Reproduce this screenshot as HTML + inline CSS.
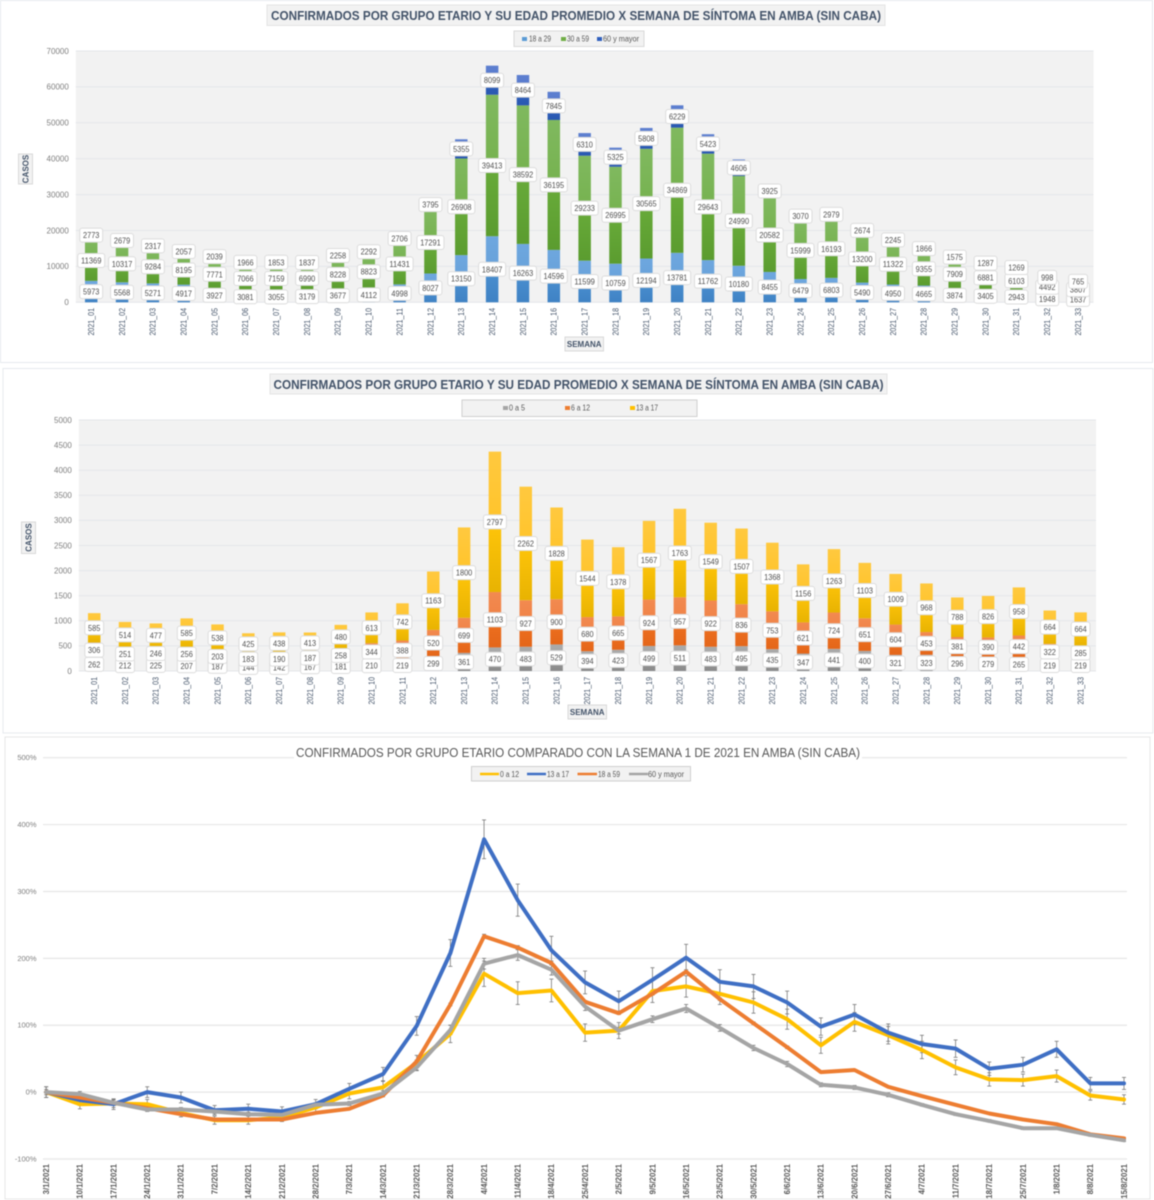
<!DOCTYPE html>
<html lang="es">
<head>
<meta charset="utf-8">
<title>Confirmados por grupo etario en AMBA</title>
<style>
html,body{margin:0;padding:0;background:#fff;}
svg{display:block;filter:blur(0.4px);font-family:"Liberation Sans",sans-serif;}
</style>
</head>
<body>
<svg id="root" xmlns="http://www.w3.org/2000/svg" width="1154" height="1200" viewBox="0 0 1154 1200">
  <defs>
    <linearGradient id="g-blue" x1="0" y1="0" x2="0" y2="1"><stop offset="0" stop-color="#6ea7df"/><stop offset=".5" stop-color="#68a2da"/><stop offset=".5" stop-color="#4a8fd0"/><stop offset="1" stop-color="#3f82c4"/></linearGradient>
    <linearGradient id="g-green" x1="0" y1="0" x2="0" y2="1"><stop offset="0" stop-color="#80b95f"/><stop offset=".5" stop-color="#76b24f"/><stop offset=".5" stop-color="#68ab3a"/><stop offset="1" stop-color="#5b9c2f"/></linearGradient>
    <linearGradient id="g-navy" x1="0" y1="0" x2="0" y2="1"><stop offset="0" stop-color="#5e80d0"/><stop offset=".5" stop-color="#5577cc"/><stop offset=".5" stop-color="#2f62c0"/><stop offset="1" stop-color="#2a58b0"/></linearGradient>
    <linearGradient id="g-gray" x1="0" y1="0" x2="0" y2="1"><stop offset="0" stop-color="#aaaaaa"/><stop offset=".5" stop-color="#a5a5a5"/><stop offset=".5" stop-color="#999999"/><stop offset="1" stop-color="#8a8a8a"/></linearGradient>
    <linearGradient id="g-orange" x1="0" y1="0" x2="0" y2="1"><stop offset="0" stop-color="#f28a50"/><stop offset=".5" stop-color="#f08246"/><stop offset=".5" stop-color="#ee701f"/><stop offset="1" stop-color="#e4661a"/></linearGradient>
    <linearGradient id="g-yellow" x1="0" y1="0" x2="0" y2="1"><stop offset="0" stop-color="#ffc93f"/><stop offset=".5" stop-color="#ffc42b"/><stop offset=".5" stop-color="#ffc50a"/><stop offset="1" stop-color="#e8b302"/></linearGradient>
  </defs>

  <!-- Panel 1 -->
  <g id="chart1">
    <rect x="0.5" y="0.5" width="1152" height="362" fill="#fff" stroke="#e6eaee"/>
    <rect x="75.8" y="51" width="1017.7" height="251.3" fill="#f2f2f2"/>
    <rect x="267" y="5" width="618" height="20.5" fill="#f2f2f2" stroke="#e4e4e4"/>
    <text x="576" y="20" text-anchor="middle" font-size="13" font-weight="bold" fill="#44546a" textLength="610" lengthAdjust="spacingAndGlyphs">CONFIRMADOS POR GRUPO ETARIO Y SU EDAD PROMEDIO X SEMANA DE SÍNTOMA EN AMBA (SIN CABA)</text>
    <rect x="514" y="31" width="130" height="15.5" fill="#f2f2f2" stroke="#d9d9d9"/>
    <rect x="522" y="37" width="5" height="4" fill="#5b9bd5"/>
    <text x="529" y="41.5" font-size="8" fill="#595959" textLength="22" lengthAdjust="spacingAndGlyphs">18 a 29</text>
    <rect x="561" y="37" width="5" height="4" fill="#70ad47"/>
    <text x="567" y="41.5" font-size="8" fill="#595959" textLength="22" lengthAdjust="spacingAndGlyphs">30 a 59</text>
    <rect x="597" y="37" width="5" height="4" fill="#2f5fbe"/>
    <text x="603" y="41.5" font-size="8" fill="#595959" textLength="36" lengthAdjust="spacingAndGlyphs">60 y mayor</text>
    <rect x="18.5" y="154" width="14" height="30" fill="#f2f2f2" stroke="#d9d9d9"/>
    <text transform="translate(28.5,169) rotate(-90)" text-anchor="middle" font-size="8" font-weight="bold" fill="#44546a">CASOS</text>
    <rect x="565" y="337" width="38.5" height="14" fill="#f2f2f2" stroke="#d9d9d9"/>
    <text x="584.2" y="347" text-anchor="middle" font-size="8" font-weight="bold" fill="#44546a">SEMANA</text>
  </g>

  <!-- Panel 2 -->
  <g id="chart2">
    <rect x="3" y="368.5" width="1150" height="364.5" fill="#fff" stroke="#e6eaee"/>
    <rect x="78.8" y="420" width="1017.2" height="251" fill="#f2f2f2"/>
    <rect x="270" y="374" width="617" height="20" fill="#f2f2f2" stroke="#e4e4e4"/>
    <text x="578.5" y="389" text-anchor="middle" font-size="13" font-weight="bold" fill="#44546a" textLength="610" lengthAdjust="spacingAndGlyphs">CONFIRMADOS POR GRUPO ETARIO Y SU EDAD PROMEDIO X SEMANA DE SÍNTOMA EN AMBA (SIN CABA)</text>
    <rect x="462" y="400" width="235" height="16.5" fill="#f2f2f2" stroke="#d0d0d0"/>
    <rect x="503" y="406" width="5" height="4" fill="#a5a5a5"/>
    <text x="509" y="410.5" font-size="8" fill="#595959" textLength="16" lengthAdjust="spacingAndGlyphs">0 a 5</text>
    <rect x="565" y="406" width="5" height="4" fill="#ed7d31"/>
    <text x="571" y="410.5" font-size="8" fill="#595959" textLength="19" lengthAdjust="spacingAndGlyphs">6 a 12</text>
    <rect x="630" y="406" width="5" height="4" fill="#ffc000"/>
    <text x="636" y="410.5" font-size="8" fill="#595959" textLength="22" lengthAdjust="spacingAndGlyphs">13 a 17</text>
    <rect x="21.5" y="522" width="14" height="31.5" fill="#f2f2f2" stroke="#d9d9d9"/>
    <text transform="translate(31.5,537.5) rotate(-90)" text-anchor="middle" font-size="8" font-weight="bold" fill="#44546a">CASOS</text>
    <rect x="568" y="705" width="38.5" height="14" fill="#f2f2f2" stroke="#d9d9d9"/>
    <text x="587.2" y="715" text-anchor="middle" font-size="8" font-weight="bold" fill="#44546a">SEMANA</text>
  </g>

  <!-- Panel 3 -->
  <g id="chart3">
    <rect x="5" y="737" width="1145" height="462" fill="#fff" stroke="#e6e6e6"/>
  </g>
  <g id="chart3-top">
    <rect x="294" y="744" width="568" height="17" fill="#fff"/>
    <text x="578" y="757" text-anchor="middle" font-size="12.5" fill="#595959" textLength="564" lengthAdjust="spacingAndGlyphs">CONFIRMADOS POR GRUPO ETARIO COMPARADO CON LA SEMANA 1 DE 2021 EN AMBA (SIN CABA)</text>
    <rect x="471.5" y="766.5" width="219" height="14.5" fill="#f2f2f2" stroke="#d0d0d0"/>
    <line x1="480" x2="499" y1="774" y2="774" stroke="#ffc000" stroke-width="2.6"/>
    <text x="500" y="777" font-size="8" fill="#595959" textLength="19" lengthAdjust="spacingAndGlyphs">0 a 12</text>
    <line x1="527" x2="546" y1="774" y2="774" stroke="#3f6fc4" stroke-width="2.6"/>
    <text x="547" y="777" font-size="8" fill="#595959" textLength="22" lengthAdjust="spacingAndGlyphs">13 a 17</text>
    <line x1="577.5" x2="597" y1="774" y2="774" stroke="#ed7d31" stroke-width="2.6"/>
    <text x="598" y="777" font-size="8" fill="#595959" textLength="22" lengthAdjust="spacingAndGlyphs">18 a 59</text>
    <line x1="629" x2="648" y1="774" y2="774" stroke="#a5a5a5" stroke-width="2.6"/>
    <text x="648" y="777" font-size="8" fill="#595959" textLength="36" lengthAdjust="spacingAndGlyphs">60 y mayor</text>
  </g>
</svg>

<script>
// ---- Chart 1 data ----
const weeks = ["2021_01","2021_02","2021_03","2021_04","2021_05","2021_06","2021_07","2021_08","2021_09","2021_10","2021_11","2021_12","2021_13","2021_14","2021_15","2021_16","2021_17","2021_18","2021_19","2021_20","2021_21","2021_22","2021_23","2021_24","2021_25","2021_26","2021_27","2021_28","2021_29","2021_30","2021_31","2021_32","2021_33"];
const adults18to29 = [5973,5568,5271,4917,3927,3081,3055,3179,3677,4112,4998,8027,13150,18407,16263,14596,11599,10759,12194,13781,11762,10180,8455,6479,6803,5490,4950,4665,3874,3405,2943,1948,1637];
const adults30to59 = [11369,10317,9284,8195,7771,7066,7159,6990,8228,8823,11431,17291,26908,39413,38592,36195,29233,26995,30565,34869,29643,24990,20582,15999,16193,13200,11322,9355,7909,6881,6103,4492,3807];
const adults60plus = [2773,2679,2317,2057,2039,1966,1853,1837,2258,2292,2706,3795,5355,8099,8464,7845,6310,5325,5808,6229,5423,4606,3925,3070,2979,2674,2245,1866,1575,1287,1269,998,765];
const chart1Ticks = [0,10000,20000,30000,40000,50000,60000,70000];

// ---- Chart 2 data ----
const kids0to5 = [262,212,225,207,187,144,142,167,181,210,219,299,361,470,483,529,394,423,499,511,483,495,435,347,441,400,321,323,296,279,265,219,219];
const kids6to12 = [306,251,246,256,203,183,190,187,258,344,388,520,699,1103,927,900,680,665,924,957,922,836,753,621,724,651,604,453,381,390,442,322,285];
const teens13to17 = [585,514,477,585,538,425,438,413,480,613,742,1163,1800,2797,2262,1828,1544,1378,1567,1763,1549,1507,1368,1156,1263,1103,1009,968,788,826,958,664,664];
const chart2Ticks = [0,500,1000,1500,2000,2500,3000,3500,4000,4500,5000];

// ---- Chart 3 data ----
const dates = ["3/1/2021","10/1/2021","17/1/2021","24/1/2021","31/1/2021","7/2/2021","14/2/2021","21/2/2021","28/2/2021","7/3/2021","14/3/2021","21/3/2021","28/3/2021","4/4/2021","11/4/2021","18/4/2021","25/4/2021","2/5/2021","9/5/2021","16/5/2021","23/5/2021","30/5/2021","6/6/2021","13/6/2021","20/6/2021","27/6/2021","4/7/2021","11/7/2021","18/7/2021","25/7/2021","1/8/2021","8/8/2021","15/8/2021"];
const pct0to12 = [0,-18,-17,-18,-31,-42,-42,-38,-23,-2,7,44,87,177,148,152,89,92,151,158,147,134,109,70,105,85,63,37,19,18,24,-5,-11];
const pct13to17 = [0,-12,-18,0,-8,-27,-25,-29,-18,5,27,99,208,378,287,212,164,136,168,201,165,158,134,98,116,89,72,65,35,41,64,13,13];
const pct18to59 = [0,-8,-16,-24,-33,-41,-41,-41,-31,-25,-5,46,131,233,216,193,135,118,147,180,139,103,67,30,33,8,-6,-19,-32,-41,-48,-63,-69];
const pct60plus = [0,-3,-16,-26,-26,-29,-33,-34,-19,-17,-2,37,93,192,205,183,128,92,109,125,96,66,42,11,7,-4,-19,-33,-43,-54,-54,-64,-72];
const err0to12 = [8,7,6,7,6,6,6,6,7,8,9,11,13,19,17,17,13,12,17,16,16,16,15,12,14,13,13,11,10,9,9,7,7];
const err13to17 = [8,8,8,8,8,7,7,7,7,8,10,14,20,29,24,21,17,15,18,20,18,18,17,13,15,13,13,13,10,11,12,9,9];
const err18to59 = [1,1,1,1,1,1,1,1,1,1,2,2,2,3,3,3,2,2,2,3,2,2,2,1,1,1,1,1,1,1,1,1,1];
const err60plus = [4,4,4,3,3,3,3,3,3,3,4,5,7,8,8,8,6,5,5,6,5,4,4,3,3,3,2,2,2,2,2,2,2];
const chart3Ticks = [-100,0,100,200,300,400,500];

const NS = "http://www.w3.org/2000/svg";
function mk(parent, tag, attrs, content) {
  const el = document.createElementNS(NS, tag);
  for (const k in attrs) el.setAttribute(k, attrs[k]);
  if (content !== undefined) el.textContent = content;
  parent.appendChild(el);
  return el;
}

function drawStacked(group, opts) {
  const yScale = v => opts.bottom - v / opts.max * (opts.bottom - opts.top);
  const band = (opts.right - opts.left) / opts.categories.length;
  const xScale = i => opts.left + band * (i + 0.5);

  opts.ticks.forEach(t => {
    const y = yScale(t);
    const grid = mk(group, 'line', {x1: opts.left, x2: opts.right, y1: y, y2: y, stroke: '#e4e6ea', 'stroke-width': 1});
    
    
    const lab = mk(group, 'text', {x: opts.left - 7, y: y + 2.8, 'text-anchor': 'end', 'font-size': 8, fill: '#7f7f7f'}, String(t));
    
    
  });

  opts.categories.forEach((c, i) => {
    const x = xScale(i);
    const lab = mk(group, 'text', {transform: 'translate(' + (x + 2.8) + ',' + opts.labelTop + ') rotate(-90)', 'text-anchor': 'end', 'font-size': 8, fill: '#44546a', textLength: 27.5, lengthAdjust: 'spacingAndGlyphs'}, c);
    
    
  });

  const bases = opts.categories.map(() => 0);
  const labelJobs = [];
  opts.series.forEach((vals, s) => {
    vals.forEach((v, i) => {
      const y0 = yScale(bases[i]);
      const y1 = yScale(bases[i] + v);
      const bar = mk(group, 'rect', {x: xScale(i) - opts.barW / 2, y: y1, width: opts.barW, height: Math.max(0, y0 - y1), fill: 'url(#' + opts.fills[s] + ')'});
      
      
      labelJobs.push({x: xScale(i), y: (y0 + y1) / 2, v: v});
      bases[i] += v;
    });
  });
  labelJobs.forEach(j => {
    const str = String(j.v);
    const w = str.length * 4.1 + 6.5;
    const h = 14;
    const box = mk(group, 'rect', {x: j.x - w / 2, y: j.y - h / 2, width: w, height: h, rx: 2.5, fill: '#fff', stroke: '#dcdcdc', 'stroke-width': 1});
    
    
    const txt = mk(group, 'text', {x: j.x, y: j.y + 3, 'text-anchor': 'middle', 'font-size': 8.5, fill: '#505050', textLength: str.length * 4.1, lengthAdjust: 'spacingAndGlyphs'}, str);
    
    
  });
}

drawStacked(document.getElementById('chart1'), {
  categories: weeks, series: [adults18to29, adults30to59, adults60plus],
  fills: ['g-blue', 'g-green', 'g-navy'], ticks: chart1Ticks, max: 70000,
  left: 75.8, right: 1093.5, top: 51, bottom: 302.3, barW: 12.5, labelTop: 308
});
drawStacked(document.getElementById('chart2'), {
  categories: weeks, series: [kids0to5, kids6to12, teens13to17],
  fills: ['g-gray', 'g-orange', 'g-yellow'], ticks: chart2Ticks, max: 5000,
  left: 78.8, right: 1096, top: 420, bottom: 671, barW: 12.5, labelTop: 677
});

(function () {
  const g = document.getElementById('chart3');
  const x0 = 46.2, x1 = 1124, gridL = 43, gridR = 1127;
  const yTop = 757.7, yBot = 1159;
  const xScale = i => x0 + i * (x1 - x0) / (dates.length - 1);
  const yScale = v => yBot - (v + 100) / 600 * (yBot - yTop);

  chart3Ticks.forEach(t => {
    const y = yScale(t);
    const grid = mk(g, 'line', {x1: gridL, x2: gridR, y1: y, y2: y, stroke: '#e6e6e6', 'stroke-width': 1.2});
    
    
    const lab = mk(g, 'text', {x: 36.5, y: y + 2.5, 'text-anchor': 'end', 'font-size': 7.5, fill: '#7f7f7f'}, t + '%');
    
    
  });

  dates.forEach((d, i) => {
    const lab = mk(g, 'text', {transform: 'translate(' + (xScale(i) + 2.8) + ',1164) rotate(-90)', 'text-anchor': 'end', 'font-size': 7.8, 'font-weight': 'bold', fill: '#595959'}, d);
    
    
  });

  const seriesList = [
    {vals: pct0to12, errs: err0to12, color: '#ffc000'},
    {vals: pct13to17, errs: err13to17, color: '#3f6fc4'},
    {vals: pct18to59, errs: err18to59, color: '#ed7d31'},
    {vals: pct60plus, errs: err60plus, color: '#a5a5a5'}
  ];
  seriesList.forEach(s => {
    s.vals.forEach((v, i) => {
      const x = xScale(i);
      const yHi = yScale(v + s.errs[i]);
      const yLo = yScale(v - s.errs[i]);
      const stem = mk(g, 'line', {x1: x, x2: x, y1: yHi, y2: yLo, stroke: '#7a7a7a', 'stroke-width': 0.8});
      
      
      const capHi = mk(g, 'line', {x1: x - 2, x2: x + 2, y1: yHi, y2: yHi, stroke: '#7a7a7a', 'stroke-width': 0.8});
      
      
      const capLo = mk(g, 'line', {x1: x - 2, x2: x + 2, y1: yLo, y2: yLo, stroke: '#7a7a7a', 'stroke-width': 0.8});
      
      
    });
  });
  seriesList.forEach(s => {
    const pts = s.vals.map((v, i) => xScale(i).toFixed(1) + ',' + yScale(v).toFixed(1)).join(' ');
    const line = mk(g, 'polyline', {points: pts, fill: 'none', stroke: s.color, 'stroke-width': 4, 'stroke-linejoin': 'round', 'stroke-linecap': 'round'});
    
    
  });
})();
</script>
</body>
</html>
